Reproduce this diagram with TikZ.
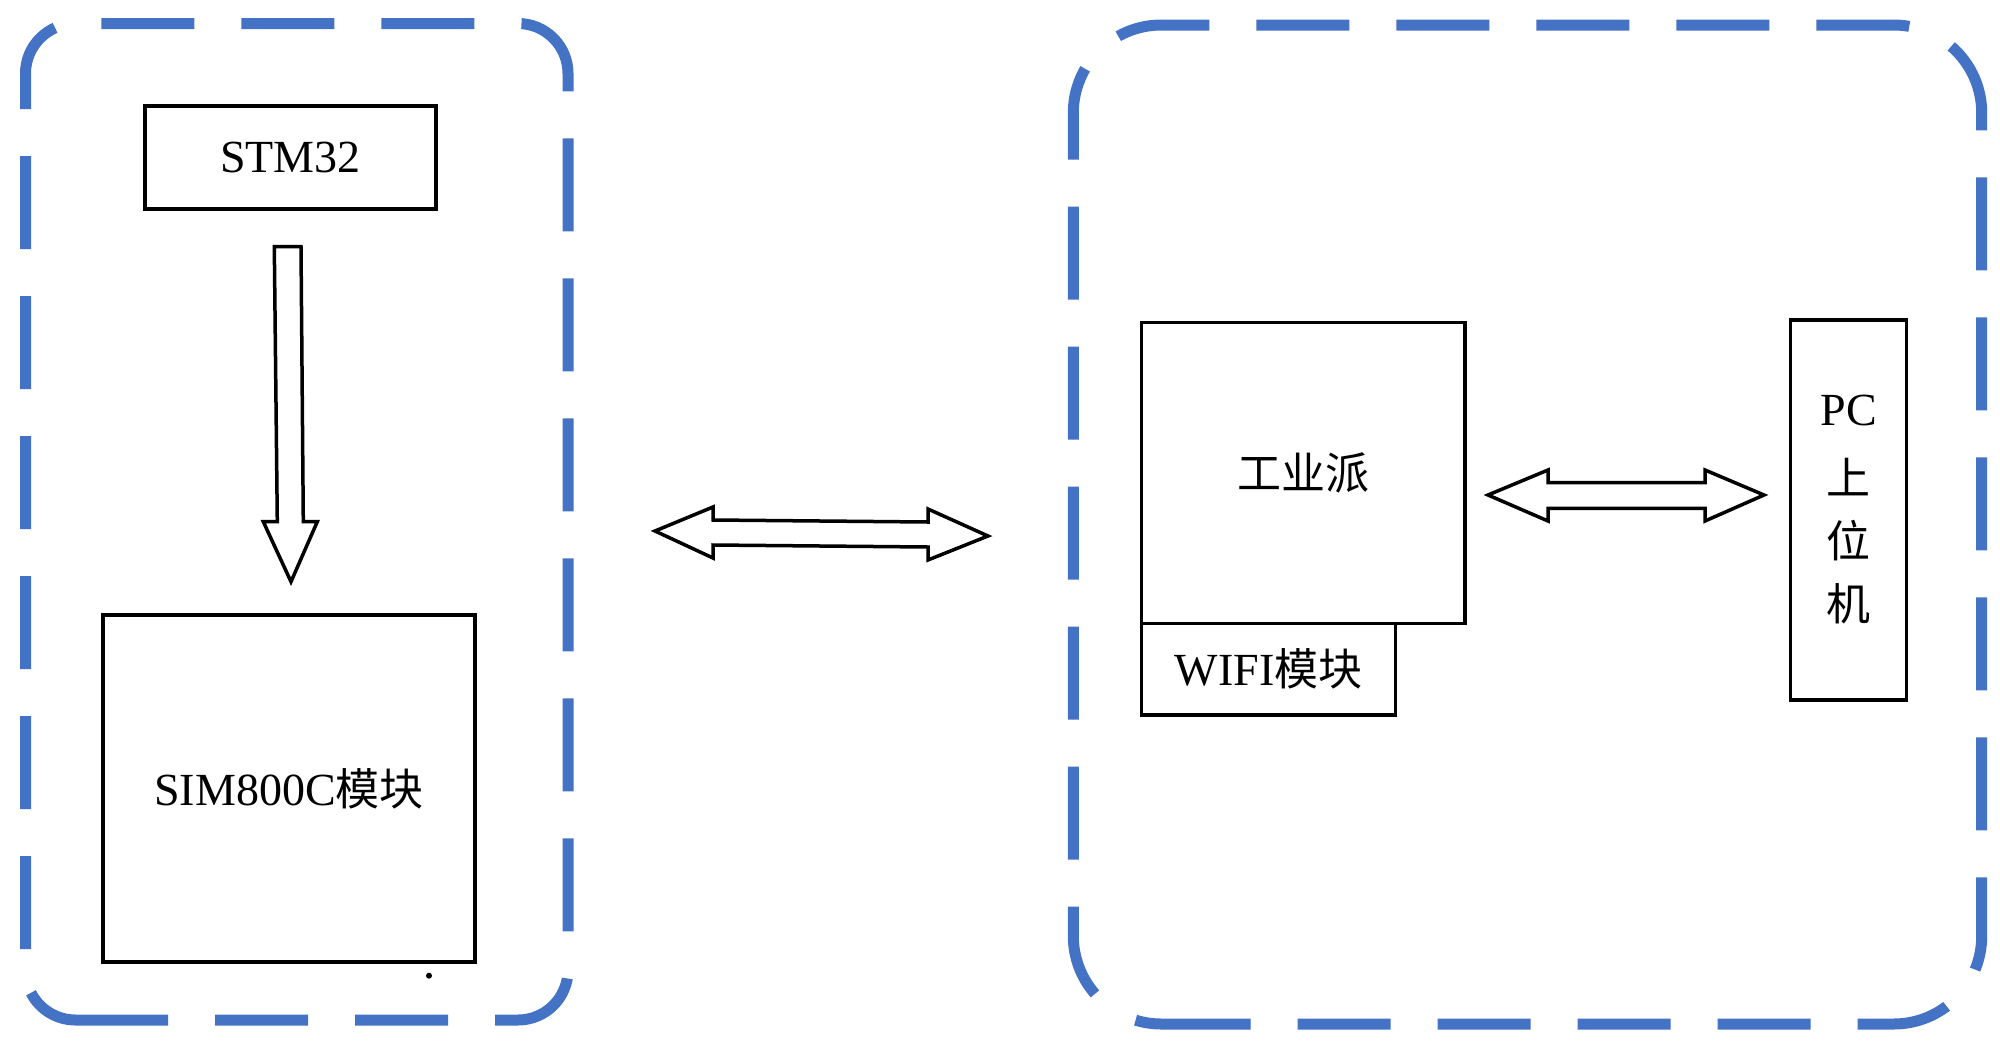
\documentclass[tikz,border=0pt]{standalone}
\usepackage{fontspec}
\setmainfont{Liberation Serif}
\newfontfamily\cjk{Noto Sans CJK SC}
\definecolor{pptblue}{HTML}{4472C4}
\begin{document}
\begin{tikzpicture}[x=1pt,y=-1pt,
  dashbox/.style={draw=pptblue, line width=11pt, dash pattern=on 93pt off 47pt, line cap=butt},
  seam/.style={draw=pptblue, line width=11pt, line cap=butt},
  blk/.style={draw=black, line width=3.5pt, inner sep=0pt, outer sep=0pt, fill=none,
    font=\fontsize{46}{55}\selectfont},
  blockarrow/.style={draw=black, line width=3.5pt, line join=miter, fill=white}]
\useasboundingbox (0,0) rectangle (2000,1047);
\fill[white] (0,0) rectangle (2000,1047);

% left dashed group
\draw[dashbox] (25.5,949) -- (25.5,73.5) arc[start angle=180,end angle=90,radius=50pt]
  -- (518,23.5) arc[start angle=90,end angle=0,radius=50pt]
  -- (568,970) arc[start angle=0,end angle=-90,radius=50pt] -- (167,1020);
\draw[seam] (167,1020) -- (75.5,1020) arc[start angle=-90,end angle=-152.9,radius=50pt];

% right dashed group
\draw[dashbox] (1073.3,859.7) -- (1073.3,113) arc[start angle=180,end angle=90,radius=88pt]
  -- (1893.7,25) arc[start angle=90,end angle=0,radius=88pt]
  -- (1981.7,936) arc[start angle=0,end angle=-90,radius=88pt] -- (1250,1024);
\draw[seam] (1250,1024) -- (1161.3,1024) arc[start angle=-90,end angle=-107,radius=88pt];
\draw[seam] (1073.3,906.7) -- (1073.3,936) arc[start angle=180,end angle=221.1,radius=88pt];

% blocks
\node[blk, minimum width=291pt, minimum height=103pt] (stm) at (290.5,157.5) {STM32};
\node[blk, minimum width=372pt, minimum height=347pt] (sim) at (289,788.5) {SIM800C{\cjk\fontsize{44}{53}\selectfont 模块}};
\node[blk, minimum width=323.3pt, minimum height=300.6pt] (gyp) at (1303.3,473) {{\cjk\fontsize{44}{53}\selectfont 工业派}};
\node[blk, minimum width=254pt, minimum height=91.7pt] (wifi) at (1268.7,669.2) {WIFI{\cjk\fontsize{44}{53}\selectfont 模块}};
\node[blk, minimum width=116pt, minimum height=380pt, align=center, font=\fontsize{46}{63}\selectfont] (pc) at (1848.7,510)
  {PC\\[6pt]{\cjk\fontsize{44}{63}\selectfont 上}\\{\cjk\fontsize{44}{63}\selectfont 位}\\{\cjk\fontsize{44}{63}\selectfont 机}};

% down block arrow STM32 -> SIM800C
\draw[blockarrow] (274.3,246.7) -- (301,246.7) -- (303.3,521.7) -- (317.3,521.7) -- (291,581.7)
  -- (263.3,521.7) -- (277.3,521.7) -- cycle;

% middle double block arrow
\draw[blockarrow] (655,531) -- (713,507) -- (713,520) -- (928,522) -- (928,509) -- (988,536)
  -- (928,560) -- (928,547) -- (713,545) -- (713,558) -- cycle;

% right double block arrow
\draw[blockarrow] (1488,495) -- (1548,470) -- (1548,482.7) -- (1705,482.7) -- (1705,470) -- (1764,495)
  -- (1705,521) -- (1705,508.3) -- (1548,508.3) -- (1548,521) -- cycle;

% small dot
\fill[black] (429,975.7) circle[radius=3pt];
\end{tikzpicture}
\end{document}
